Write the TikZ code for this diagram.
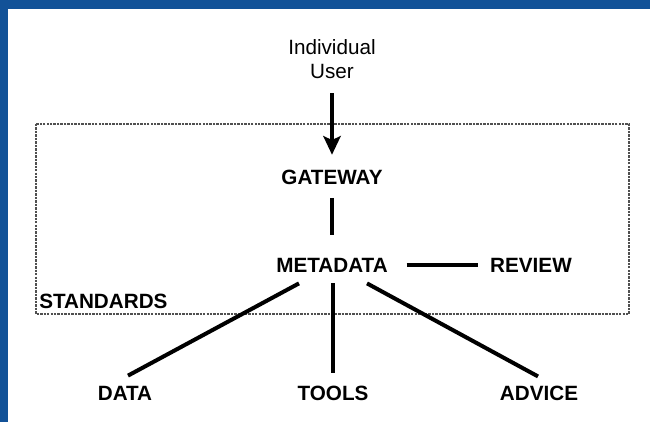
\documentclass[tikz,border=0pt]{standalone}
\usepackage{fontspec}
\setmainfont{Liberation Sans}
\usetikzlibrary{arrows.meta}
\definecolor{bgblue}{RGB}{18,82,152}
\definecolor{boxgray}{RGB}{80,80,80}
\tikzset{
  lbl/.style={inner sep=0pt, font=\fontsize{15.5}{18}\selectfont\bfseries},
  conn/.style={line width=3pt},
  frame/.style={draw=boxgray, line width=1.1pt, dash pattern=on 1.8pt off 0.8pt}
}
\begin{document}
\begin{tikzpicture}[x=0.75pt, y=-0.75pt]
\useasboundingbox (0,0) rectangle (650,422);
\fill[bgblue] (0,0) rectangle (650,422);
\fill[white] (8,9) rectangle (650,422);
% standards box
\draw[frame] (36,124) rectangle (629,314);
\node[lbl, anchor=west] (std) at (39,301) {STANDARDS};
% nodes
\node[inner sep=0pt, align=center, anchor=north, font=\fontsize{15.5}{18}\selectfont] (user) at (332,39) {Individual\\User};
\node[lbl] (gw) at (332,177) {GATEWAY};
\node[lbl] (meta) at (332,265) {METADATA};
\node[lbl] (rev) at (531,265) {REVIEW};
\node[lbl] (data) at (125,393) {DATA};
\node[lbl] (tools) at (333,393) {TOOLS};
\node[lbl] (adv) at (539,393) {ADVICE};
% connectors
\draw[conn, -{Stealth[length=14pt,width=13pt,inset=3pt]}, shorten <=11pt, shorten >=11pt] (user.south) -- (gw.north);
\draw[conn, shorten <=10pt, shorten >=17pt] (gw.south -| meta.north) -- (meta.north);
\draw[conn, shorten <=14pt, shorten >=9pt] (meta.east) -- (rev.west);
\draw[conn] ([shift={(-33,11)}]meta.south) -- ([shift={(3,-10)}]data.north);
\draw[conn] ([shift={(1,11)}]meta.south) -- ([shift={(0,-12)}]tools.north);
\draw[conn] ([shift={(35,11)}]meta.south) -- ([shift={(-1,-9)}]adv.north);
\end{tikzpicture}
\end{document}
